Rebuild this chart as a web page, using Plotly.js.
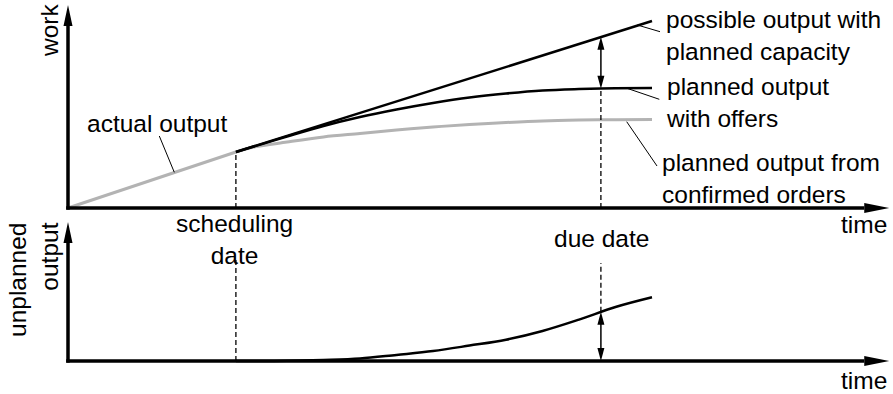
<!DOCTYPE html>
<html>
<head>
    <script src="https://cdn.plot.ly/plotly-3.0.1.min.js"></script>
    <style>body { margin: 0; }</style>
</head>
<body>
    <div id="chart" style="width: 893px; height: 394px;"></div>
    <script>
        // dates on the time axis
        var tSchedule = 4.6;
        var tDue = 14.6;
        var tAxisEnd = 22.5;

        // actual output until the scheduling date
        var tActual = [0, 4.6];
        var workActual = [0, 2.76];

        // possible output with planned capacity
        var tPossible = [4.6, 16];
        var workPossible = [2.76, 9.21];

        // planned curves after the scheduling date
        var tPlan = [4.6, 5, 6, 7, 8, 9, 10, 11, 12, 13, 14, 15, 16];
        var workOffers = [2.76, 2.98, 3.52, 4.04, 4.48, 4.85, 5.17, 5.44, 5.64, 5.79, 5.86, 5.90, 5.91];
        var workConfirmed = [2.76, 2.97, 3.25, 3.50, 3.67, 3.84, 3.99, 4.11, 4.21, 4.29, 4.33, 4.35, 4.36];
        var unplannedOut = [0, 0, 0.01, 0.05, 0.12, 0.30, 0.49, 0.76, 1.05, 1.48, 2.04, 2.66, 3.14];

        // values at the due date
        var dueOffers = 5.88;
        var duePossible = 8.43;
        var dueUnplanned = 2.43;

        var workAxisTop = 10;
        var unplannedAxisTop = 6.85;

        // page geometry (pixels)
        var W = 893, H = 394;
        var ox = 68, oy1 = 208, oy2 = 361, split = 215;
        var PX = 36.5, PY = 20.3;

        var FONT = { family: 'Liberation Sans, Arial, sans-serif', size: 24.5, color: '#000' };
        var GREY = '#b3b3b3';
        var DASH = '5px,3px';

        function xp(px) { return px / W; }
        function yp(py) { return 1 - py / H; }

        // filled triangle arrow head, sizes in pixels
        function head(yref, x, y, dir, len, wid) {
            var pts;
            if (dir === 'right') {
                var bx = x - len / PX;
                pts = [[x, y], [bx, y + wid / 2 / PY], [bx, y - wid / 2 / PY]];
            } else {
                var by = dir === 'up' ? y - len / PY : y + len / PY;
                pts = [[x, y], [x - wid / 2 / PX, by], [x + wid / 2 / PX, by]];
            }
            var p = 'M' + pts.map(function (q) { return q[0] + ',' + q[1]; }).join('L') + 'Z';
            return { type: 'path', xref: 'x', yref: yref, path: p,
                     fillcolor: '#000', line: { width: 0 } };
        }

        function seg(xref, yref, x0, y0, x1, y1, w, dash) {
            return { type: 'line', xref: xref, yref: yref, x0: x0, y0: y0, x1: x1, y1: y1,
                     line: { color: '#000', width: w, dash: dash || 'solid' } };
        }

        function pointer(a, b, c, d) {
            return seg('paper', 'paper', xp(a), yp(b), xp(c), yp(d), 1);
        }

        var data = [
            { x: tActual, y: workActual, mode: 'lines', line: { color: GREY, width: 3 } },
            { x: tPlan, y: workConfirmed, mode: 'lines', line: { color: GREY, width: 3, shape: 'spline' } },
            { x: tPossible, y: workPossible, mode: 'lines', line: { color: '#000', width: 2.5 } },
            { x: tPlan, y: workOffers, mode: 'lines', line: { color: '#000', width: 2.5, shape: 'spline' } },
            { x: tPlan, y: unplannedOut, mode: 'lines', yaxis: 'y2', line: { color: '#000', width: 2.5, shape: 'spline' } }
        ];

        var xEndBase = tAxisEnd - 25 / PX;
        var shapes = [
            // axes
            seg('x', 'y', -0.05, 0, xEndBase, 0, 3.5),
            seg('x', 'y', 0, -0.08, 0, workAxisTop - 20 / PY, 3.5),
            head('y', tAxisEnd, 0, 'right', 25, 10),
            head('y', 0, workAxisTop, 'up', 21, 9),
            seg('x', 'y2', -0.05, 0, xEndBase, 0, 3.5),
            seg('x', 'y2', 0, -0.08, 0, unplannedAxisTop - 20 / PY, 3.5),
            head('y2', tAxisEnd, 0, 'right', 25, 10),
            head('y2', 0, unplannedAxisTop, 'up', 21, 9),
            // dashed date lines
            seg('x', 'y', tSchedule, 0, tSchedule, workActual[1], 1.3, DASH),
            seg('x', 'y', tDue, 0, tDue, dueOffers, 1.3, DASH),
            seg('x', 'y2', tSchedule, 0, tSchedule, (oy2 - 257) / PY, 1.3, DASH),
            seg('x', 'y2', tDue, dueUnplanned, tDue, (oy2 - 263) / PY, 1.3, DASH),
            // double arrows at the due date
            seg('x', 'y', tDue, dueOffers + 12 / PY, tDue, duePossible - 12 / PY, 1.5),
            head('y', tDue, duePossible, 'up', 13, 7),
            head('y', tDue, dueOffers, 'down', 13, 7),
            seg('x', 'y2', tDue, 12 / PY, tDue, dueUnplanned - 12 / PY, 1.5),
            head('y2', tDue, dueUnplanned, 'up', 13, 7),
            head('y2', tDue, 0, 'down', 13, 7),
            // label pointers
            pointer(159.3, 136, 174.3, 172.3),
            pointer(637.3, 25, 660, 31.7),
            pointer(627, 88.3, 659.3, 99.3),
            pointer(626.7, 121.7, 657, 166)
        ];

        function label(text, x, y, xanchor, yanchor, extra) {
            var a = { text: text, xref: 'paper', yref: 'paper', x: xp(x), y: yp(y),
                      xanchor: xanchor, yanchor: yanchor, showarrow: false, font: FONT };
            for (var k in extra) a[k] = extra[k];
            return a;
        }

        var annotations = [
            label('work', 50, 31, 'center', 'middle', { textangle: -90 }),
            label('unplanned<br>output', 33, 280, 'center', 'middle', { textangle: -90, align: 'right' }),
            label('actual output', 85, 108.3, 'left', 'top'),
            label('possible output with<br>planned capacity', 664, 4.3, 'left', 'top', { align: 'left' }),
            label('planned output<br>with offers', 664, 71.3, 'left', 'top', { align: 'left' }),
            label('planned output from<br>confirmed orders', 660, 147.3, 'left', 'top', { align: 'left' }),
            label('scheduling<br>date', 234, 208.3, 'center', 'top', { align: 'center' }),
            label('due date', 601, 223.3, 'center', 'top'),
            label('time', 889, 208.6, 'right', 'top'),
            label('time', 889, 364.6, 'right', 'top')
        ];

        var hidden = { visible: false, fixedrange: true };
        var layout = {
            width: W,
            height: H,
            margin: { l: 0, r: 0, t: 0, b: 0 },
            showlegend: false,
            paper_bgcolor: '#fff',
            plot_bgcolor: '#fff',
            xaxis: Object.assign({ range: [-ox / PX, (W - ox) / PX] }, hidden),
            yaxis: Object.assign({ domain: [(H - split) / H, 1], range: [(oy1 - split) / PY, oy1 / PY] }, hidden),
            yaxis2: Object.assign({ domain: [0, (H - split) / H], range: [(oy2 - H) / PY, (oy2 - split) / PY] }, hidden),
            shapes: shapes,
            annotations: annotations
        };

        Plotly.newPlot('chart', data, layout, { displayModeBar: false, staticPlot: true });
    </script>
</body>
</html>
